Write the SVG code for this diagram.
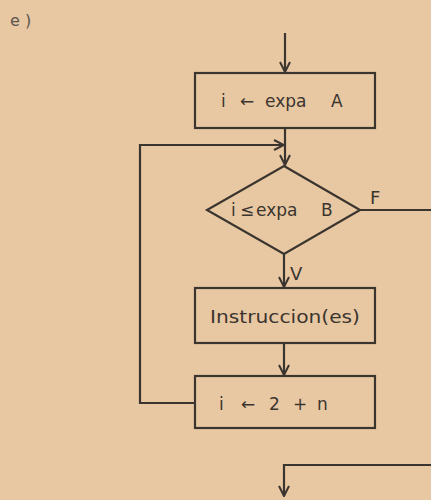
<svg xmlns="http://www.w3.org/2000/svg" width="431" height="500" viewBox="0 0 431 500">
<defs>
<style>
.bg{fill:#e8c8a2}
.box{fill:none;stroke:#3b3530;stroke-width:2.2}
.ln{fill:none;stroke:#3b3530;stroke-width:2.2}
.t{font-family:"DejaVu Sans","Liberation Sans",sans-serif;font-size:17px;fill:#3b3530}
.lb{font-family:"DejaVu Sans","Liberation Sans",sans-serif;font-size:18px;fill:#3b3530}
</style>
<marker id="ah" viewBox="0 0 12 12" refX="11" refY="6" markerWidth="12" markerHeight="12" markerUnits="userSpaceOnUse" orient="auto">
<polyline points="1,1 11,6 1,11" fill="none" stroke="#3b3530" stroke-width="2"/>
</marker>
</defs>
<rect class="bg" x="0" y="0" width="431" height="500"/>
<text x="10" y="26" font-family="DejaVu Sans, Liberation Sans, sans-serif" font-size="16" fill="#5a5550">e )</text>
<g id="connectors">
<line class="ln" x1="285" y1="33" x2="285" y2="72" marker-end="url(#ah)"/>
<line class="ln" x1="285" y1="128" x2="285" y2="165" marker-end="url(#ah)"/>
<polyline class="ln" points="195,403 140,403 140,145 284,145" marker-end="url(#ah)"/>
<line class="ln" x1="284" y1="254" x2="284" y2="287" marker-end="url(#ah)"/>
<polyline class="ln" points="360,210 431,210"/>
<line class="ln" x1="284" y1="343" x2="284" y2="375" marker-end="url(#ah)"/>
<polyline class="ln" points="431,465 284,465 284,496" marker-end="url(#ah)"/>
<text class="lb" x="370" y="204">F</text>
<text class="lb" x="290" y="280">V</text>
</g>
<g id="n1">
<rect class="box" x="195" y="73" width="180" height="55"/>
<text class="t" y="107"><tspan x="221">i</tspan><tspan x="240">←</tspan><tspan x="265">expa</tspan><tspan x="331">A</tspan></text>
</g>
<g id="n2">
<polygon class="box" points="284,166 360,210 284,254 207,210"/>
<text class="t" y="216" font-size="18"><tspan x="231">i</tspan><tspan x="240">≤</tspan><tspan x="256">expa</tspan><tspan x="321">B</tspan></text>
</g>
<g id="n3">
<rect class="box" x="195" y="288" width="180" height="55"/>
<text class="t" x="210" y="323" font-size="19" textLength="150" lengthAdjust="spacingAndGlyphs">Instruccion(es)</text>
</g>
<g id="n4">
<rect class="box" x="195" y="376" width="180" height="52"/>
<text class="t" y="410" font-size="18"><tspan x="219">i</tspan><tspan x="241">←</tspan><tspan x="269">2</tspan><tspan x="293">+</tspan><tspan x="317">n</tspan></text>
</g>
</svg>
